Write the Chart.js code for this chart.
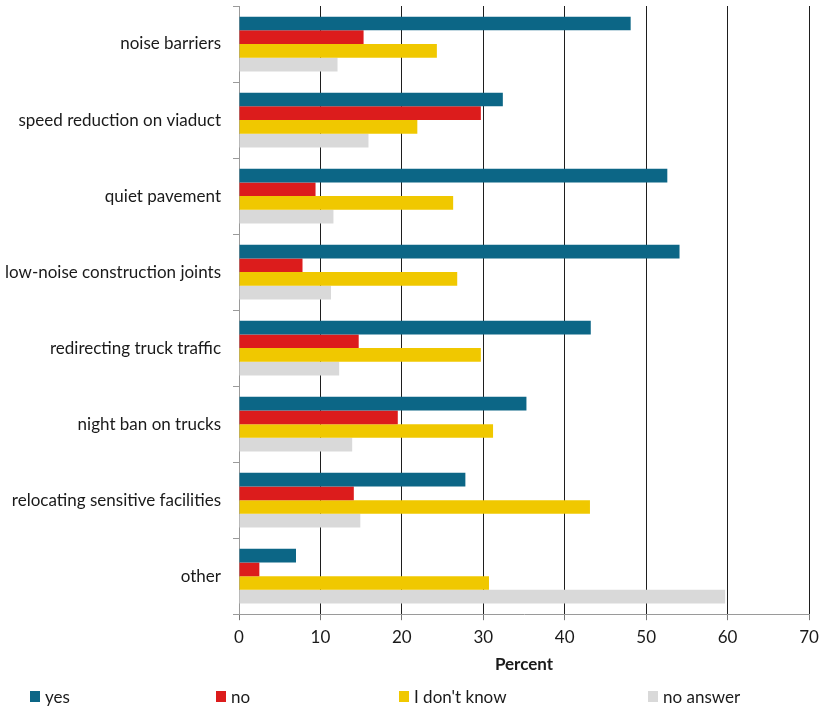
<!DOCTYPE html>
<html>
<head>
<meta charset="utf-8">
<script src="https://cdn.jsdelivr.net/npm/chart.js@4.4.1/dist/chart.umd.min.js"></script>
<style>
    body { margin: 0; background: #fff; }
    #wrap { position: relative; width: 821px; height: 707px; }
    #legend {
        position: absolute; left: 30px; top: 686px;
        display: grid; grid-template-columns: 186px 183px 249px auto;
        font-family: Lato, sans-serif; font-size: 17px; color: #1a1a1a;
    }
    #legend span.item { display: flex; align-items: center; }
    #legend span.box { display: inline-block; width: 10px; height: 11px; margin-right: 5px; }
</style>
</head>
<body>
<div id="wrap">
    <canvas id="measuresChart" width="821" height="707"></canvas>
    <div id="legend"></div>
</div>
<script>
// Measures against viaduct noise, share of respondents (%)
const measures = [
    'noise barriers',
    'speed reduction on viaduct',
    'quiet pavement',
    'low-noise construction joints',
    'redirecting truck traffic',
    'night ban on trucks',
    'relocating sensitive facilities',
    'other'
];
const yesValues      = [48.1, 32.4, 52.6, 54.1, 43.2, 35.3, 27.8, 7.0];
const noValues       = [15.3, 29.7, 9.4, 7.8, 14.7, 19.5, 14.1, 2.5];
const dontKnowValues = [24.3, 21.9, 26.3, 26.8, 29.7, 31.2, 43.1, 30.7];
const noAnswerValues = [12.1, 15.9, 11.6, 11.3, 12.3, 13.9, 14.9, 59.7];
const percentTicks   = [0, 10, 20, 30, 40, 50, 60, 70];

const seriesNames  = ['yes', 'no', "I don't know", 'no answer'];
const seriesColors = ['#0c6686', '#dc1c1c', '#f0c800', '#d9d9d9'];
const seriesValues = [yesValues, noValues, dontKnowValues, noAnswerValues];

const fontFamily = 'Lato, sans-serif';

// Legend as plain HTML, spread out under the plot
const legendEl = document.getElementById('legend');
seriesNames.forEach((name, i) => {
    const item = document.createElement('span');
    item.className = 'item';
    const box = document.createElement('span');
    box.className = 'box';
    box.style.background = seriesColors[i];
    item.appendChild(box);
    item.appendChild(document.createTextNode(name));
    legendEl.appendChild(item);
});

const ctx = document.getElementById('measuresChart').getContext('2d');
new Chart(ctx, {
    type: 'bar',
    data: {
        labels: measures,
        datasets: seriesNames.map((name, i) => ({
            label: name,
            data: seriesValues[i],
            backgroundColor: seriesColors[i],
            borderWidth: 0,
            categoryPercentage: 0.72,
            barPercentage: 1.0
        }))
    },
    options: {
        indexAxis: 'y',
        responsive: false,
        animation: false,
        layout: { padding: { top: 6, right: 12, bottom: 32, left: 0 } },
        plugins: {
            legend: { display: false },
            tooltip: { enabled: false }
        },
        scales: {
            x: {
                min: 0,
                max: 70,
                afterBuildTicks: scale => {
                    scale.ticks = percentTicks.map(v => ({ value: v }));
                },
                // keep the plot edge fixed, the end labels may overhang
                afterFit: scale => {
                    scale.paddingLeft = 0;
                    scale.paddingRight = 0;
                },
                border: { color: '#9a9a9a', width: 1 },
                grid: {
                    color: c => (c.index === 0 ? '#9a9a9a' : '#1e1e1e'),
                    lineWidth: 1,
                    tickLength: 6,
                    tickColor: '#777'
                },
                ticks: {
                    padding: 7,
                    color: '#1a1a1a',
                    font: { family: fontFamily, size: 17 }
                },
                title: {
                    display: true,
                    text: 'Percent',
                    color: '#1a1a1a',
                    padding: { top: 0, bottom: 0 },
                    font: { family: fontFamily, size: 17, weight: 'bold' }
                }
            },
            y: {
                afterFit: scale => {
                    scale.width = 239;
                    scale.paddingTop = 0;
                    scale.paddingBottom = 0;
                },
                border: { color: '#9a9a9a', width: 1 },
                grid: {
                    offset: true,
                    drawOnChartArea: false,
                    tickLength: 6,
                    color: '#9a9a9a'
                },
                ticks: {
                    padding: 12,
                    color: '#1a1a1a',
                    font: { family: fontFamily, size: 17 }
                }
            }
        }
    }
});
</script>
</body>
</html>
